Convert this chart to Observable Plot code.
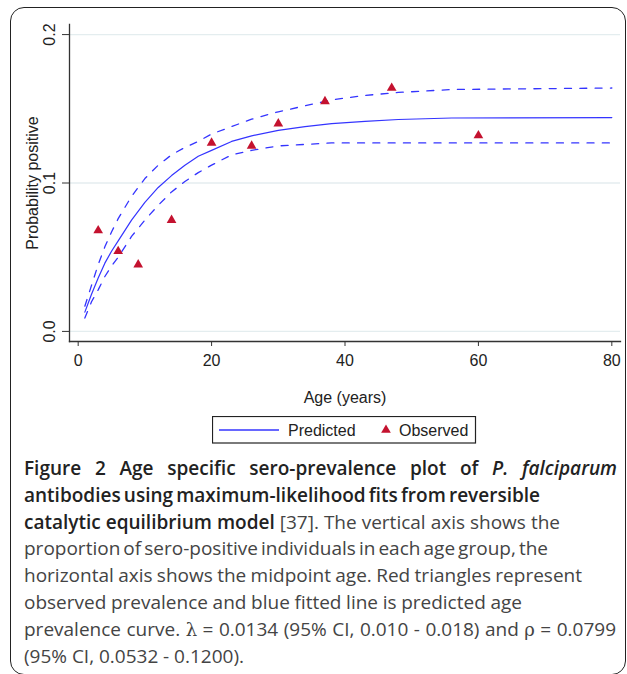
<!DOCTYPE html>
<html>
<head>
<meta charset="utf-8">
<script src="https://cdn.jsdelivr.net/npm/d3@7"></script>
<script src="https://cdn.jsdelivr.net/npm/@observablehq/plot@0.6"></script>
<style>
  html, body { margin: 0; padding: 0; background: #fff; overflow: hidden; }
  body { width: 627px; height: 674px; position: relative; }
  #frame { position: absolute; left: 10px; top: 7px; width: 616px; height: 668px;
           border: 1.5px solid #222; border-radius: 14px; box-sizing: border-box; }
  #chart { position: absolute; left: 0; top: 0; }
  #legend { position: absolute; left: 212px; top: 416px; }
  #caption { position: absolute; left: 24px; top: 455px; width: 603px;
             font-family: "Open Sans", sans-serif; font-size: 19px; line-height: 26.8px;
             color: #444; white-space: nowrap; }
  #caption .ln { display: block; height: 26.8px; }
  #caption .ln > span { display: inline-block; }
  #caption b { color: #222; font-weight: 600; }
  .sym { font-family: "DejaVu Serif", "Liberation Serif", serif; font-size: 18px; }
</style>
</head>
<body>
<div id="frame"></div>
<div id="chart"></div>
<div id="legend"></div>
<div id="caption">
<div class="ln"><span><b>Figure 2 Age specific sero-prevalence plot of <i>P. falciparum</i></b></span></div>
<div class="ln"><span><b>antibodies using maximum-likelihood fits from reversible</b></span></div>
<div class="ln"><span><b>catalytic equilibrium model</b> [37]. The vertical axis shows the</span></div>
<div class="ln"><span>proportion of sero-positive individuals in each age group, the</span></div>
<div class="ln"><span>horizontal axis shows the midpoint age. Red triangles represent</span></div>
<div class="ln"><span>observed prevalence and blue fitted line is predicted age</span></div>
<div class="ln"><span>prevalence curve. <span class="sym">λ</span> = 0.0134 (95% CI, 0.010 - 0.018) and <span class="sym">ρ</span> = 0.0799</span></div>
<div class="ln"><span>(95% CI, 0.0532 - 0.1200).</span></div>
</div>
<script>
// Observed prevalence (red triangles)
const obsAge = [3, 6, 9, 14, 20, 26, 30, 37, 47, 60];
const obsVal = [0.068, 0.054, 0.045, 0.075, 0.127, 0.125, 0.140, 0.155, 0.164, 0.132];

// Predicted curve and 95% CI
const curveAge = [1, 2, 3, 4, 5, 6, 8, 10, 12, 14, 16, 18, 20, 23, 26, 30, 34, 38, 43, 48, 56, 80];
const predVal  = [0.013, 0.025, 0.036, 0.046, 0.054, 0.061, 0.075, 0.087, 0.097, 0.105, 0.112, 0.118, 0.122, 0.128, 0.1318, 0.1355, 0.138, 0.140, 0.1415, 0.1428, 0.1438, 0.1441];
const upperVal = [0.017, 0.031, 0.045, 0.057, 0.067, 0.076, 0.091, 0.103, 0.112, 0.119, 0.124, 0.128, 0.133, 0.138, 0.143, 0.148, 0.152, 0.156, 0.159, 0.161, 0.163, 0.164];
const lowerVal = [0.009, 0.020, 0.028, 0.037, 0.044, 0.050, 0.064, 0.075, 0.085, 0.094, 0.101, 0.107, 0.112, 0.119, 0.122, 0.125, 0.126, 0.127, 0.127, 0.127, 0.127, 0.127];

const xTicks = [0, 20, 40, 60, 80];
const yTicks = [0, 0.1, 0.2];
const xDomain = [-1.3, 81.3];
const yDomain = [-0.0068, 0.2068];

// caption line right edges (page px)
const captionRight = [617, 540, 560, 548, 582, 522, 616, 244];

const obs = obsAge.map((a, i) => ({age: a, val: obsVal[i]}));
const curves = curveAge.map((a, i) => ({age: a, pred: predVal[i], upper: upperVal[i], lower: lowerVal[i]}));

const BLUE = "#3434ff";
const RED = "#c4122f";
const INK = "#333";

const plot = Plot.plot({
  width: 627,
  height: 410,
  marginLeft: 69,
  marginRight: 7,
  marginTop: 24,
  marginBottom: 69,
  style: {fontFamily: "'Liberation Sans', Arial, sans-serif", fontSize: "16px", color: "#222", background: "transparent"},
  x: {domain: xDomain},
  y: {domain: yDomain},
  marks: [
    Plot.gridY(yTicks, {stroke: "#e4edef", strokeOpacity: 1, strokeWidth: 1.3}),
    Plot.frame({anchor: "left", stroke: INK, strokeWidth: 1.3}),
    Plot.frame({anchor: "bottom", stroke: INK, strokeWidth: 1.3}),
    Plot.axisY(yTicks, {tickFormat: d3.format(".1f"), tickRotate: -90, tickSize: 7, tickPadding: 8,
      stroke: INK, label: "Probability positive", labelAnchor: "center", labelOffset: 43, labelArrow: "none"}),
    Plot.axisX(xTicks, {tickSize: 5, tickPadding: 8, stroke: INK,
      label: "Age (years)", labelAnchor: "center", labelOffset: 61, labelArrow: "none"}),
    Plot.line(curves, {x: "age", y: "upper", stroke: BLUE, strokeWidth: 1.3, strokeDasharray: "7,8.3"}),
    Plot.line(curves, {x: "age", y: "lower", stroke: BLUE, strokeWidth: 1.3, strokeDasharray: "7,8.3"}),
    Plot.line(curves, {x: "age", y: "pred", stroke: BLUE, strokeWidth: 1.2}),
    Plot.dot(obs, {x: "age", y: "val", symbol: "triangle", r: 3.6, fill: RED, stroke: "none"})
  ]
});
document.getElementById("chart").appendChild(plot);

// Legend
const ns = "http://www.w3.org/2000/svg";
const lg = document.createElementNS(ns, "svg");
lg.setAttribute("width", 265);
lg.setAttribute("height", 28);
lg.style.fontFamily = "'Liberation Sans', Arial, sans-serif";
lg.style.fontSize = "16px";
lg.innerHTML = `
  <rect x="0.5" y="0.5" width="263" height="26.5" fill="#fff" stroke="#222" stroke-width="1.2"/>
  <line x1="7" x2="67" y1="14" y2="14" stroke="${BLUE}" stroke-width="1.3"/>
  <text x="76" y="19.5" fill="#222">Predicted</text>
  <path d="${d3.symbol(d3.symbolTriangle, Math.PI * 3.6 * 3.6)()}" transform="translate(174,14)" fill="${RED}"/>
  <text x="187" y="19.5" fill="#222">Observed</text>`;
document.getElementById("legend").appendChild(lg);

// Fit caption lines to the reference line lengths via word spacing
function fitCaption() {
  const left = 24;
  document.querySelectorAll("#caption .ln > span").forEach((s, i) => {
    s.style.wordSpacing = "0px";
    const w = s.getBoundingClientRect().width;
    const spaces = (s.textContent.match(/ /g) || []).length;
    if (spaces > 0) {
      const ws = (captionRight[i] - left - w) / spaces;
      s.style.wordSpacing = ws.toFixed(2) + "px";
    }
  });
}
fitCaption();
if (document.fonts && document.fonts.ready) document.fonts.ready.then(fitCaption);
</script>
</body>
</html>
